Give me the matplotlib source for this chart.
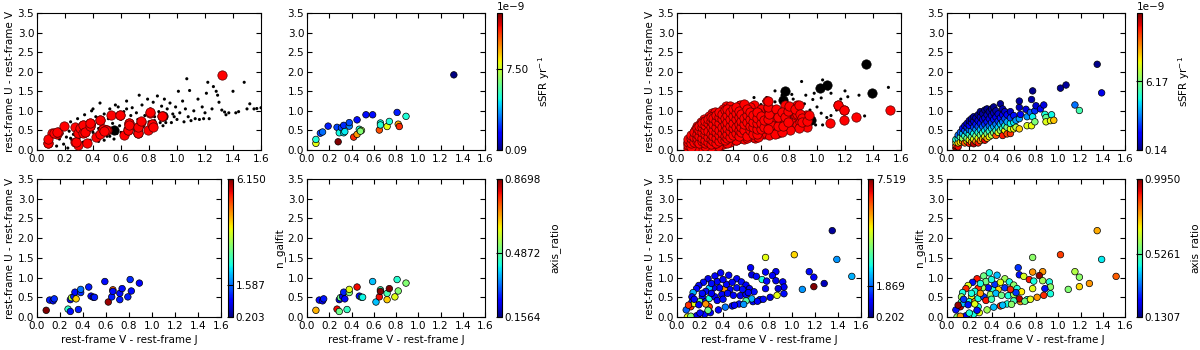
import matplotlib
matplotlib.use("Agg")
import matplotlib.pyplot as plt
import numpy as np

# ---------------- data ----------------
# Left group: sSFR sample (sSFR in units of 1e-9 yr^-1)
L_sfr_x = [0.08, 0.08, 0.12, 0.14, 0.19, 0.27, 0.28, 0.29, 0.31, 0.33, 0.33, 0.34, 0.38, 0.38, 0.42, 0.45,
           0.45, 0.47, 0.49, 0.48, 0.53, 0.59, 0.65, 0.66, 0.66, 0.72, 0.74, 0.81, 0.82, 0.83, 0.89, 1.32]
L_sfr_y = [0.17, 0.27, 0.43, 0.46, 0.61, 0.58, 0.21, 0.44, 0.57, 0.63, 0.44, 0.47, 0.61, 0.70, 0.33, 0.40,
           0.77, 0.53, 0.50, 0.48, 0.90, 0.90, 0.51, 0.69, 0.64, 0.60, 0.73, 0.96, 0.66, 0.60, 0.86, 1.92]
L_sfr_c = [8.0, 5.0, 2.5, 3.0, 2.0, 2.5, 12.7, 4.8, 2.5, 2.2, 4.5, 4.6, 3.3, 2.6, 11.0, 9.5,
           1.8, 5.0, 7.0, 6.5, 1.8, 1.8, 10.5, 4.8, 5.0, 8.0, 5.0, 2.0, 9.3, 11.0, 5.0, 0.09]

# Left group: morphology sample
L_mor_x = [0.08, 0.11, 0.14, 0.15, 0.27, 0.29, 0.29, 0.30, 0.32, 0.33, 0.34, 0.36, 0.38, 0.38, 0.45,
           0.47, 0.49, 0.50, 0.59, 0.62, 0.65, 0.66, 0.66, 0.72, 0.72, 0.74, 0.79, 0.81, 0.82, 0.89]
L_mor_y = [0.17, 0.43, 0.41, 0.46, 0.20, 0.14, 0.44, 0.49, 0.52, 0.63, 0.46, 0.19, 0.62, 0.70, 0.76,
           0.53, 0.50, 0.50, 0.90, 0.38, 0.51, 0.69, 0.65, 0.60, 0.44, 0.72, 0.51, 0.95, 0.66, 0.86]
L_n = [6.15, 1.1, 1.0, 1.2, 2.6, 1.0, 0.9, 3.6, 1.1, 1.0, 4.3, 1.1, 1.2, 1.6, 1.1,
       0.9, 1.0, 1.1, 1.0, 6.0, 1.1, 5.0, 1.0, 1.0, 1.1, 1.0, 1.1, 1.2, 1.0, 0.9]
L_q = [0.67, 0.25, 0.24, 0.26, 0.80, 0.50, 0.22, 0.50, 0.24, 0.27, 0.25, 0.45, 0.52, 0.60, 0.80,
       0.25, 0.42, 0.42, 0.38, 0.38, 0.80, 0.46, 0.87, 0.47, 0.65, 0.87, 0.60, 0.44, 0.52, 0.52]

# Left group: parent sample (small black dots)
L_all_x = [0.10, 0.12, 0.14, 0.15, 0.16, 0.18, 0.19, 0.20, 0.21, 0.22, 0.23, 0.24, 0.25, 0.26, 0.27, 0.28,
           0.29, 0.30, 0.31, 0.32, 0.33, 0.34, 0.35, 0.36, 0.37, 0.38, 0.39, 0.40, 0.41, 0.42, 0.43, 0.44,
           0.45, 0.46, 0.47, 0.48, 0.49, 0.50, 0.51, 0.52, 0.53, 0.54, 0.55, 0.56, 0.57, 0.58, 0.59, 0.60,
           0.61, 0.62, 0.63, 0.64, 0.65, 0.66, 0.67, 0.68, 0.69, 0.70, 0.71, 0.72, 0.73, 0.74, 0.75, 0.76,
           0.77, 0.78, 0.79, 0.80, 0.81, 0.82, 0.83, 0.84, 0.85, 0.86, 0.87, 0.88, 0.89, 0.90, 0.91, 0.92,
           0.93, 0.95, 0.96, 0.97, 0.99, 1.00, 1.01, 1.02, 1.04, 1.05, 1.06, 1.07, 1.08, 1.09, 1.10, 1.12,
           1.13, 1.15, 1.16, 1.18, 1.19, 1.20, 1.21, 1.22, 1.23, 1.25, 1.26, 1.28, 1.29, 1.30, 1.32, 1.34,
           1.35, 1.37, 1.40, 1.42, 1.44, 1.48, 1.50, 1.52, 1.55, 1.57, 1.60,
           0.24, 0.36, 0.44, 0.52, 0.60, 0.68, 0.76, 0.84, 0.92, 0.98, 0.56, 0.64, 0.40, 0.48]
L_all_y = [0.20, 0.35, 0.10, 0.50, 0.28, 0.42, 0.15, 0.60, 0.33, 0.05, 0.48, 0.72, 0.25, 0.40, 0.62, 0.12,
           0.80, 0.30, 0.52, 0.68, 0.20, 0.90, 0.38, 0.58, 0.75, 0.25, 1.00, 0.45, 0.65, 0.85, 0.30, 0.55,
           1.20, 0.72, 0.40, 0.92, 0.60, 0.35, 0.80, 1.05, 0.50, 0.68, 0.28, 0.90, 0.42, 1.10, 0.62, 0.78,
           0.35, 0.98, 0.55, 1.25, 0.72, 0.45, 0.88, 1.08, 0.60, 0.40, 0.95, 0.78, 1.40, 0.55, 1.15, 0.68,
           0.88, 0.50, 1.30, 0.72, 1.05, 0.60, 1.22, 0.85, 0.55, 1.38, 0.98, 0.70, 1.12, 0.62, 1.30, 0.80,
           1.05, 1.20, 0.70, 0.92, 1.10, 0.78, 1.50, 0.95, 1.25, 0.72, 1.05, 1.82, 0.85, 1.52, 0.75, 1.00,
           0.80, 1.30, 0.78, 1.10, 0.80, 0.95, 1.45, 1.73, 0.80, 1.05, 1.62, 1.50, 1.40, 1.22, 1.02, 0.97,
           0.90, 0.95, 1.50, 0.95, 0.98, 1.73, 1.05, 1.18, 1.05, 1.06, 1.08,
           0.30, 0.15, 0.22, 0.35, 0.45, 0.52, 0.60, 0.75, 0.70, 0.85, 1.15, 1.05, 1.05, 0.25]
L_big_x = [0.90, 0.72, 0.55]
L_big_y = [0.87, 0.43, 0.50]

# Right group: sSFR sample (units of 1e-9 yr^-1)
R_sfr = [
    (0.08, 0.05, 12.0), (0.08, 0.12, 10.5), (0.08, 0.20, 7.0), (0.08, 0.27, 4.8),
    (0.10, 0.08, 11.0), (0.10, 0.18, 8.5), (0.10, 0.30, 5.0), (0.10, 0.38, 3.0),
    (0.12, 0.20, 8.0), (0.12, 0.33, 5.5), (0.12, 0.45, 2.8),
    (0.14, 0.22, 9.2), (0.14, 0.30, 6.5), (0.14, 0.42, 3.8), (0.14, 0.55, 1.8),
    (0.16, 0.18, 10.0), (0.16, 0.36, 5.0), (0.16, 0.50, 2.5), (0.16, 0.62, 1.2),
    (0.18, 0.22, 8.0), (0.18, 0.30, 6.2), (0.18, 0.45, 3.8), (0.18, 0.58, 2.0), (0.18, 0.68, 0.9),
    (0.20, 0.17, 10.8), (0.20, 0.26, 7.8), (0.20, 0.40, 4.8), (0.20, 0.52, 2.8), (0.20, 0.63, 1.5), (0.20, 0.75, 0.6),
    (0.22, 0.20, 9.0), (0.22, 0.33, 6.0), (0.22, 0.48, 3.5), (0.22, 0.70, 1.2), (0.22, 0.80, 0.5),
    (0.24, 0.16, 11.5), (0.24, 0.28, 7.6), (0.24, 0.42, 4.6), (0.24, 0.58, 2.4), (0.24, 0.74, 1.0), (0.24, 0.85, 0.4),
    (0.26, 0.22, 9.2), (0.26, 0.36, 6.2), (0.26, 0.52, 3.4), (0.26, 0.66, 1.8), (0.26, 0.82, 0.7),
    (0.28, 0.18, 10.8), (0.28, 0.30, 7.8), (0.28, 0.45, 4.8), (0.28, 0.60, 2.5), (0.28, 0.75, 1.2), (0.28, 0.90, 0.4),
    (0.30, 0.24, 9.5), (0.30, 0.38, 6.2), (0.30, 0.52, 3.8), (0.30, 0.68, 1.8), (0.30, 0.84, 0.8), (0.30, 0.98, 0.3),
    (0.32, 0.28, 8.8), (0.32, 0.44, 5.2), (0.32, 0.60, 2.8), (0.32, 0.78, 1.2), (0.32, 0.93, 0.5),
    (0.34, 0.25, 11.0), (0.34, 0.35, 7.6), (0.34, 0.50, 4.5), (0.34, 0.66, 2.2), (0.34, 0.82, 1.0), (0.34, 1.02, 0.4),
    (0.36, 0.30, 9.0), (0.36, 0.42, 6.0), (0.36, 0.56, 3.6), (0.36, 0.72, 1.8), (0.36, 0.90, 0.8), (0.36, 1.05, 0.3),
    (0.38, 0.34, 7.8), (0.38, 0.48, 5.0), (0.38, 0.62, 2.8), (0.38, 0.80, 1.3), (0.38, 0.98, 0.5),
    (0.40, 0.38, 7.0), (0.40, 0.55, 4.2), (0.40, 0.70, 2.2), (0.40, 0.88, 1.0), (0.40, 1.05, 0.4),
    (0.42, 0.44, 6.2), (0.42, 0.60, 3.6), (0.42, 0.78, 1.8), (0.42, 0.95, 0.8), (0.42, 1.10, 0.3),
    (0.44, 0.37, 10.0), (0.44, 0.50, 5.0), (0.44, 0.66, 3.0), (0.44, 0.84, 1.4), (0.44, 1.00, 0.6),
    (0.46, 0.45, 7.6), (0.46, 0.58, 4.2), (0.46, 0.74, 2.2), (0.46, 0.92, 1.0),
    (0.48, 0.50, 6.5), (0.48, 0.66, 3.8), (0.48, 0.82, 1.8), (0.48, 1.18, 0.4),
    (0.50, 0.37, 10.8), (0.50, 0.55, 5.2), (0.50, 0.72, 3.0), (0.50, 0.90, 1.4), (0.50, 1.05, 0.6),
    (0.52, 0.50, 8.0), (0.52, 0.62, 4.6), (0.52, 0.80, 2.4), (0.52, 0.98, 1.0),
    (0.54, 0.41, 10.2), (0.54, 0.58, 6.2), (0.54, 0.72, 3.6), (0.54, 0.90, 1.6),
    (0.57, 0.42, 10.5), (0.57, 0.54, 7.6), (0.57, 0.68, 4.6), (0.57, 0.82, 2.4), (0.57, 0.98, 0.9),
    (0.60, 0.54, 7.8), (0.60, 0.70, 4.4), (0.60, 0.88, 1.8),
    (0.62, 0.58, 7.0), (0.62, 0.76, 3.4),
    (0.65, 0.54, 8.5), (0.65, 0.80, 3.5), (0.66, 0.91, 1.6), (0.65, 1.09, 0.8), (0.65, 1.25, 0.5),
    (0.71, 1.04, 1.2), (0.72, 0.62, 7.6), (0.72, 0.85, 3.4), (0.75, 0.96, 2.8), (0.76, 1.29, 0.6),
    (0.76, 0.62, 7.8), (0.77, 0.85, 4.5), (0.77, 1.51, 0.3), (0.79, 1.00, 2.2), (0.79, 0.72, 6.2),
    (0.80, 1.13, 1.0), (0.84, 1.05, 1.5), (0.87, 1.15, 1.2), (0.88, 0.91, 4.8), (0.89, 0.83, 5.8),
    (0.89, 0.72, 7.6), (0.93, 0.75, 7.8), (0.94, 0.90, 4.6), (0.96, 0.76, 8.6), (1.02, 1.58, 0.4),
    (1.07, 1.66, 0.5), (1.15, 1.15, 3.0), (1.19, 1.01, 5.4), (1.35, 2.19, 0.3), (1.39, 1.46, 1.3),
]
R_sfr_x = [p[0] for p in R_sfr]
R_sfr_y = [p[1] for p in R_sfr]
R_sfr_c = [p[2] for p in R_sfr]

# Right group: morphology sample (x, y, n_galfit, axis_ratio)
R_mor = [
    (0.77, 1.51, 4.8, 0.58), (1.02, 1.58, 5.2, 0.86), (1.39, 1.46, 2.2, 0.44), (1.52, 1.03, 2.4, 0.83),
    (1.15, 1.15, 1.2, 0.62), (1.19, 1.01, 1.0, 0.58), (1.19, 0.77, 7.5, 0.72), (1.28, 0.85, 0.6, 0.78),
    (1.09, 0.70, 2.2, 0.57), (1.35, 2.19, 0.4, 0.76), (0.64, 1.25, 1.0, 0.28), (0.77, 1.14, 1.1, 0.78),
    (0.86, 1.15, 1.0, 0.78), (0.65, 1.07, 0.8, 0.25), (0.69, 1.03, 1.2, 0.66), (0.74, 0.95, 3.0, 0.90),
    (0.83, 1.05, 1.0, 0.98), (0.78, 0.91, 1.2, 0.46), (0.86, 0.92, 0.9, 0.60), (0.92, 0.89, 1.1, 0.46),
    (0.93, 0.76, 1.0, 0.58), (0.88, 0.72, 0.8, 0.25), (0.93, 0.59, 1.2, 0.46), (0.87, 0.55, 4.8, 0.88),
    (0.77, 0.72, 1.0, 0.67), (0.81, 0.50, 0.9, 0.78), (0.72, 0.44, 1.1, 0.46), (0.66, 0.39, 1.0, 0.78),
    (0.65, 0.46, 2.4, 0.95), (0.60, 0.41, 3.5, 0.50), (0.54, 0.33, 1.2, 0.46), (0.48, 0.28, 1.0, 0.88),
    (0.42, 0.25, 2.0, 0.40), (0.36, 0.18, 1.1, 0.60), (0.29, 0.11, 1.0, 0.67), (0.24, 0.07, 1.2, 0.46),
    (0.17, 0.03, 0.9, 0.22), (0.09, 0.00, 4.8, 0.58), (0.12, 0.02, 4.0, 0.78), (0.38, 1.12, 1.1, 0.46),
    (0.33, 1.04, 1.0, 0.55), (0.27, 0.97, 0.9, 0.90), (0.23, 0.88, 1.2, 0.25), (0.19, 0.80, 1.0, 0.67),
    (0.17, 0.72, 1.1, 0.88), (0.14, 0.62, 2.4, 0.46), (0.13, 0.51, 1.0, 0.60), (0.13, 0.38, 1.2, 0.50),
    (0.12, 0.26, 6.5, 0.95), (0.15, 0.34, 4.8, 0.40), (0.45, 1.06, 1.0, 0.40), (0.52, 0.97, 1.1, 0.60),
    (0.56, 0.89, 1.2, 0.46), (0.60, 0.81, 1.0, 0.58), (0.63, 0.72, 0.9, 0.46), (0.52, 0.74, 1.2, 0.28),
    (0.46, 0.70, 1.0, 0.72), (0.41, 0.70, 5.7, 0.46), (0.37, 0.74, 1.1, 0.25), (0.32, 0.74, 1.0, 0.60),
    (0.28, 0.73, 2.5, 0.88), (0.25, 0.65, 1.2, 0.46), (0.22, 0.52, 1.0, 0.67), (0.20, 0.39, 3.8, 0.46),
    (0.19, 0.31, 1.1, 0.25), (0.25, 0.39, 1.2, 0.78), (0.28, 0.47, 3.0, 0.46), (0.33, 0.51, 1.0, 0.28),
    (0.39, 0.57, 1.1, 0.60), (0.44, 0.60, 1.2, 0.40), (0.49, 0.55, 1.0, 0.55), (0.55, 0.54, 0.9, 0.46),
    (0.60, 0.57, 1.1, 0.60), (0.67, 0.64, 1.2, 0.70), (0.28, 0.26, 6.6, 0.46), (0.25, 0.33, 5.7, 0.67),
    (0.27, 0.17, 3.8, 0.25), (0.08, 0.18, 1.8, 0.25), (0.10, 0.30, 6.5, 0.98), (0.20, 0.10, 1.2, 0.46),
    (0.35, 0.42, 1.0, 0.90), (0.40, 0.45, 1.2, 0.50), (0.43, 0.83, 1.1, 0.28), (0.35, 0.90, 1.0, 0.55),
    (0.30, 0.85, 1.2, 0.46), (0.48, 0.88, 1.0, 0.67), (0.50, 0.30, 1.1, 0.40), (0.58, 0.32, 2.2, 0.58),
    (0.70, 0.40, 1.0, 0.55), (0.75, 0.45, 1.2, 0.67), (0.62, 0.62, 1.0, 0.28), (0.57, 0.70, 1.2, 0.88),
    (0.15, 0.45, 1.1, 0.28), (0.22, 0.60, 1.2, 0.46), (0.30, 0.60, 1.0, 0.78), (0.40, 0.95, 1.1, 0.46),
]
R_mor_x = [p[0] for p in R_mor]
R_mor_y = [p[1] for p in R_mor]
R_n = [p[2] for p in R_mor]
R_q = [p[3] for p in R_mor]

# Right group: additional selected galaxies (red, top-left panel only)
R_red_x = [0.10, 0.14, 0.18, 0.22, 0.26, 0.30, 0.33, 0.38, 0.42, 0.46, 0.13, 0.17, 0.55, 0.60, 0.58, 0.63,
           0.68, 0.70, 0.73, 0.78, 0.82, 0.85, 0.90, 0.82, 0.62, 0.68, 0.72, 0.80, 0.86, 0.92, 0.45, 0.52,
           0.56, 0.35, 0.25]
R_red_y = [0.02, 0.05, 0.04, 0.06, 0.08, 0.10, 0.15, 0.20, 0.26, 0.30, 0.12, 0.10, 1.15, 1.05, 0.95, 0.88,
           0.80, 0.95, 0.70, 0.80, 0.95, 0.88, 0.78, 0.70, 0.42, 0.55, 0.50, 0.58, 0.65, 0.65, 1.15, 1.10,
           0.30, 1.12, 0.95]

# Right group: parent sample small dots
R_all_x = [0.89, 1.04, 0.70, 0.55, 0.64, 0.98, 0.92, 0.97, 1.03, 1.10, 1.20, 1.22, 1.30, 1.34, 1.51,
           0.44, 0.49, 0.58, 0.60, 0.70, 0.83, 1.04, 0.99, 1.07, 0.95, 1.03, 0.91, 1.14, 0.85, 0.88,
           0.93, 1.00, 1.17, 0.40, 0.62, 0.75, 0.82, 1.08, 0.97, 1.10, 0.35, 0.45, 0.55, 0.65, 0.20, 0.30]
R_all_y = [1.75, 1.79, 1.51, 1.34, 1.34, 1.45, 1.40, 1.29, 1.33, 1.45, 1.51, 1.36, 1.40, 0.87, 1.60,
           1.21, 1.16, 1.12, 1.16, 1.23, 1.30, 0.64, 0.64, 0.83, 1.02, 0.94, 1.18, 1.02, 1.20, 1.05,
           0.70, 1.10, 1.30, 1.15, 1.25, 1.40, 1.42, 1.56, 0.82, 0.88, 0.10, 0.20, 0.30, 0.42, 0.05, 0.12]
R_big_x = [1.35, 1.39, 1.02, 1.07, 0.77, 0.76, 0.96, 0.50, 0.65]
R_big_y = [2.19, 1.46, 1.58, 1.66, 1.51, 1.29, 0.76, 0.55, 0.46]

# colour bar limits and tick values
L_sfr_lim = (0.09, 12.69); L_sfr_ticks = [0.09, 7.50]; L_sfr_labels = ["0.09", "7.50"]
L_n_ticks = [0.203, 1.587, 6.150]
L_q_ticks = [0.1564, 0.4872, 0.8698]
R_sfr_lim = (0.14, 12.2); R_sfr_ticks = [0.14, 6.17]; R_sfr_labels = ["0.14", "6.17"]
R_n_ticks = [0.202, 1.869, 7.519]
R_q_ticks = [0.1307, 0.5261, 0.9950]

XLABEL = "rest-frame V - rest-frame J"
YLABEL = "rest-frame U - rest-frame V"

# ---------------- figure ----------------
W, H = 1200, 350
plt.rcParams.update({
    "font.family": "DejaVu Sans", "font.size": 7.5,
    "xtick.direction": "in", "ytick.direction": "in",
    "xtick.top": True, "ytick.right": True,
    "xtick.major.size": 3.5, "ytick.major.size": 3.5,
    "axes.linewidth": 0.8,
})
fig = plt.figure(figsize=(W / 100, H / 100), dpi=100)


def add_px(x0, y0, x1, y1):
    return fig.add_axes([x0 / W, 1 - y1 / H, (x1 - x0) / W, (y1 - y0) / H])


def style(ax, xl=False, yl=False):
    ax.set_xlim(0, 1.6)
    ax.set_ylim(0, 3.5)
    ax.set_xticks(np.arange(0, 1.61, 0.2))
    ax.set_yticks(np.arange(0, 3.51, 0.5))
    ax.xaxis.set_major_formatter(matplotlib.ticker.FormatStrFormatter("%.1f"))
    ax.yaxis.set_major_formatter(matplotlib.ticker.FormatStrFormatter("%.1f"))
    ax.tick_params(axis="x", pad=3, labelsize=7.5)
    ax.tick_params(axis="y", pad=2, labelsize=7.5)
    if xl:
        ax.set_xlabel(XLABEL, fontsize=7.5, labelpad=3)
    if yl:
        ax.set_ylabel(YLABEL, fontsize=7.5, labelpad=2)


def cbar(sc, x0, y0, x1, y1, ticks, labels, label, offset=None):
    cax = add_px(x0, y0, x1, y1)
    cb = fig.colorbar(sc, cax=cax)
    cb.set_ticks(ticks)
    cb.set_ticklabels(labels)
    cb.ax.tick_params(direction="in", length=4, labelsize=7.5, pad=2, right=True)
    cb.outline.set_linewidth(0.8)
    cb.set_label(label, fontsize=7.5, labelpad=6)
    if offset:
        cb.ax.text(0.0, 1.01, offset, transform=cb.ax.transAxes, ha="left", va="bottom", fontsize=7.5)
    return cb


def red_set(big_x, big_y, *samples):
    bigs = set(zip(big_x, big_y))
    xs, ys = [], []
    for sx, sy in samples:
        for a, b in zip(sx, sy):
            if (a, b) not in bigs:
                xs.append(a); ys.append(b)
    return xs, ys


cm = plt.get_cmap("jet")
S_DOT, S_BIG, S_COL = 5, 45, 22

groups = [
    (0, dict(all_x=L_all_x, all_y=L_all_y, big_x=L_big_x, big_y=L_big_y, ex_x=[], ex_y=[],
             sx=L_sfr_x, sy=L_sfr_y, sc=L_sfr_c, slim=L_sfr_lim, sticks=L_sfr_ticks, slabels=L_sfr_labels,
             mx=L_mor_x, my=L_mor_y, n=L_n, q=L_q, nt=L_n_ticks, qt=L_q_ticks)),
    (640, dict(all_x=R_all_x, all_y=R_all_y, big_x=R_big_x, big_y=R_big_y, ex_x=R_red_x, ex_y=R_red_y,
               sx=R_sfr_x, sy=R_sfr_y, sc=R_sfr_c, slim=R_sfr_lim, sticks=R_sfr_ticks, slabels=R_sfr_labels,
               mx=R_mor_x, my=R_mor_y, n=R_n, q=R_q, nt=R_n_ticks, qt=R_q_ticks)),
]

for off, d in groups:
    # panel 1: sample overview
    ax1 = add_px(37 + off, 13, 261 + off, 150)
    ax1.scatter(d["all_x"], d["all_y"], s=S_DOT, c="k", edgecolors="none", zorder=2)
    ax1.scatter(d["big_x"], d["big_y"], s=S_BIG, c="k", edgecolors="k", linewidths=0.5, zorder=3)
    rx, ry = red_set(d["big_x"], d["big_y"], (d["ex_x"], d["ex_y"]), (d["mx"], d["my"]), (d["sx"], d["sy"]))
    ax1.scatter(rx, ry, s=S_BIG, c="#ff0000", edgecolors="#550000", linewidths=0.5, zorder=4)
    style(ax1, yl=True)

    # panel 2: sSFR
    ax2 = add_px(307 + off, 13, 485 + off, 150)
    sc2 = ax2.scatter(d["sx"], d["sy"], s=S_COL, c=d["sc"], cmap=cm, vmin=d["slim"][0], vmax=d["slim"][1],
                      edgecolors="k", linewidths=0.5, zorder=3)
    style(ax2)
    cbar(sc2, 497 + off, 13, 502 + off, 150, d["sticks"], d["slabels"], r"sSFR yr$^{-1}$", offset="1e\u22129")

    # panel 3: n_galfit
    ax3 = add_px(37 + off, 179, 221 + off, 317)
    sc3 = ax3.scatter(d["mx"], d["my"], s=S_COL, c=d["n"], cmap=cm, vmin=d["nt"][0], vmax=d["nt"][-1],
                      edgecolors="k", linewidths=0.5, zorder=3)
    style(ax3, xl=True, yl=True)
    cbar(sc3, 228 + off, 179, 233 + off, 317, d["nt"], ["%.3f" % t for t in d["nt"]], "n_galfit")

    # panel 4: axis ratio
    ax4 = add_px(307 + off, 179, 485 + off, 317)
    sc4 = ax4.scatter(d["mx"], d["my"], s=S_COL, c=d["q"], cmap=cm, vmin=d["qt"][0], vmax=d["qt"][-1],
                      edgecolors="k", linewidths=0.5, zorder=3)
    style(ax4, xl=True)
    cbar(sc4, 497 + off, 179, 502 + off, 317, d["qt"], ["%.4f" % t for t in d["qt"]], "axis_ratio")

fig.savefig("out.png", dpi=100, facecolor="white")
